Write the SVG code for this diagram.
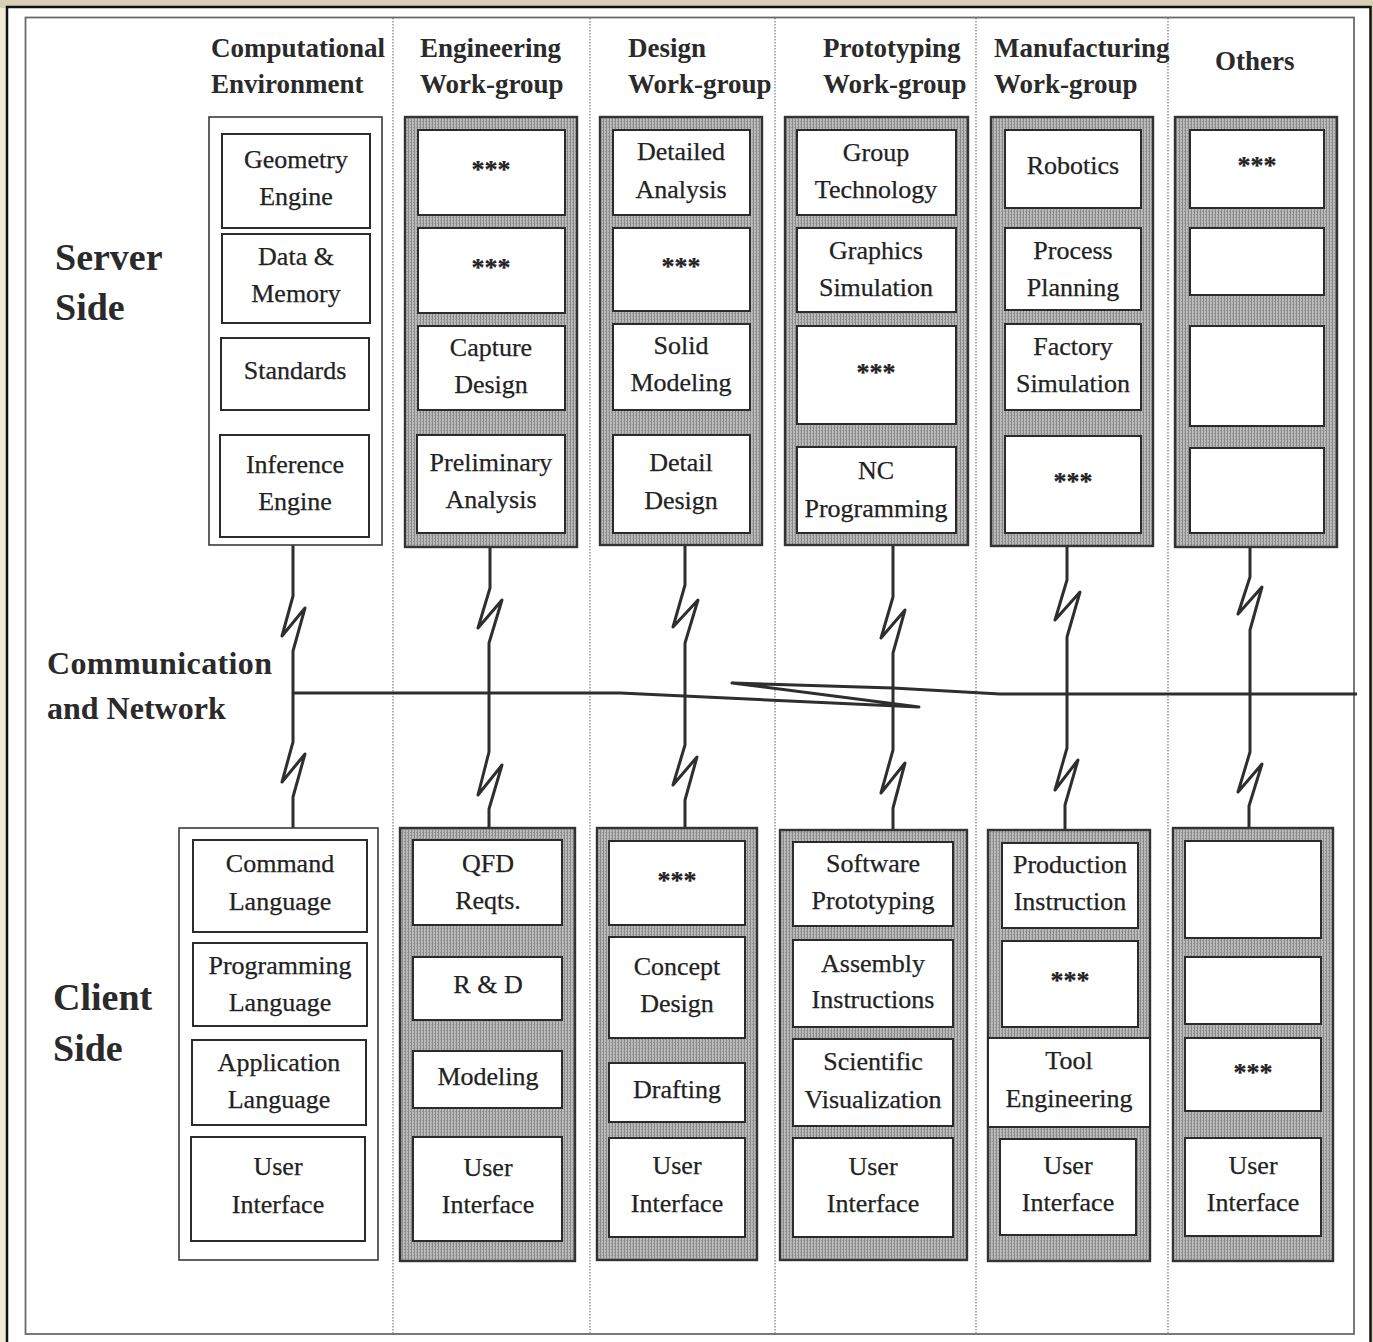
<svg xmlns="http://www.w3.org/2000/svg" width="1373" height="1342" viewBox="0 0 1373 1342">
  <defs>
    <!-- stippled grey used for the work-group panels -->
    <pattern id="stip" width="3" height="3" patternUnits="userSpaceOnUse">
      <rect width="3" height="3" fill="#bababa"/>
      <rect x="0" y="0" width="1" height="3" fill="#8a8a8a"/>
      <rect x="2" y="1" width="1" height="1" fill="#969696"/>
    </pattern>
    <style>
      .page{fill:#fff;stroke:#111;stroke-width:2.5}
      .border{fill:none;stroke:#6a6a6a;stroke-width:1.8}
      .div{stroke:#7a7a7a;stroke-width:1.2;stroke-dasharray:1.5 1.5}
      .plain{fill:#fff;stroke:#3a3a3a;stroke-width:1.6}
      .panel{fill:url(#stip);stroke:#333;stroke-width:2.4}
      .cell{fill:#fff;stroke:#2b2b2b;stroke-width:2}
      .t{font-family:"Liberation Serif","Times New Roman",serif;font-size:26px;fill:#222;stroke:#222;stroke-width:0.25;text-anchor:middle}
      .star{font-weight:bold}
      .h{font-family:"Liberation Serif","Times New Roman",serif;font-weight:bold;font-size:27px;fill:#2a2a2a}
      .big{font-size:38px}
      .net{font-size:32px}
      .wire{fill:none;stroke:#2e2e2e;stroke-width:3;stroke-linejoin:round}
    </style>
  </defs>

  <!-- page backdrop -->
  <rect x="0" y="0" width="1373" height="1342" fill="#d9ceb8"/>
  <rect x="0" y="8" width="7" height="1334" fill="#f2ecd6"/>
  <rect class="page" x="7" y="7" width="1363.5" height="1345"/>
  <rect class="border" x="25.5" y="17.5" width="1328.5" height="1316.5"/>

  <!-- column separators -->
  <g id="separators">
    <line class="div" x1="393" y1="18" x2="393" y2="1334"/>
    <line class="div" x1="590" y1="18" x2="590" y2="1334"/>
    <line class="div" x1="775" y1="18" x2="775" y2="1334"/>
    <line class="div" x1="976" y1="18" x2="976" y2="1334"/>
    <line class="div" x1="1168" y1="18" x2="1168" y2="1334"/>
  </g>

  <!-- row and column headings -->
  <g id="headings">
    <text class="h" x="211" y="57">Computational</text>
    <text class="h" x="211" y="93">Environment</text>
    <text class="h" x="420" y="57">Engineering</text>
    <text class="h" x="420" y="93">Work-group</text>
    <text class="h" x="628" y="57">Design</text>
    <text class="h" x="628" y="93">Work-group</text>
    <text class="h" x="823" y="57">Prototyping</text>
    <text class="h" x="823" y="93">Work-group</text>
    <text class="h" x="994" y="57">Manufacturing</text>
    <text class="h" x="994" y="93">Work-group</text>
    <text class="h" x="1215" y="70">Others</text>
    <text class="h big" x="55" y="270">Server</text>
    <text class="h big" x="55" y="320">Side</text>
    <text class="h net" x="47" y="674" textLength="225">Communication</text>
    <text class="h net" x="47" y="719">and Network</text>
    <text class="h big" x="53" y="1010">Client</text>
    <text class="h big" x="53" y="1061">Side</text>
  </g>

  <!-- network links: drops with lightning breaks and the shared bus -->
  <g id="connectors">
    <path class="wire" d="M293,537 V596 L282,636 L305,608 L293,651 V742 L282,782 L305,754 L293,797 V840"/>
    <path class="wire" d="M490,533 V588 L478,628 L502,600 L489,643 V752 L478,795 L502,765 L489,809 V840"/>
    <path class="wire" d="M685,533 V585 L673,627 L698,600 L685,643 V745 L673,785 L697,757 L685,800 V841"/>
    <path class="wire" d="M893,533 V597 L881,638 L905,610 L893,653 V750 L881,793 L905,763 L893,808 V842"/>
    <path class="wire" d="M1067,533 V580 L1055,620 L1080,592 L1067,637 V748 L1055,790 L1078,760 L1065,805 V843"/>
    <path class="wire" d="M1250,533 V577 L1238,614 L1262,587 L1250,630 V752 L1238,792 L1262,764 L1249,806 V841"/>
    <path class="wire" stroke-linejoin="miter" stroke-miterlimit="2" d="M293,693 L620,693 L919,707 L732,683 L893,688 L1000,694 L1357,694"/>
  </g>

  <!-- server side: computational environment -->
  <g id="server-computational">
    <rect class="plain" x="209" y="117" width="173" height="428"/>
    <g id="geometry-engine"><rect class="cell" x="222" y="134" width="148" height="94"/>
      <text class="t" x="296" y="168">Geometry</text><text class="t" x="296" y="205">Engine</text></g>
    <g id="data-memory"><rect class="cell" x="222" y="234" width="148" height="89"/>
      <text class="t" x="296" y="265">Data &amp;</text><text class="t" x="296" y="302">Memory</text></g>
    <g id="standards"><rect class="cell" x="221" y="338" width="148" height="72"/>
      <text class="t" x="295" y="379">Standards</text></g>
    <g id="inference-engine"><rect class="cell" x="220" y="435" width="149" height="102"/>
      <text class="t" x="295" y="473">Inference</text><text class="t" x="295" y="510">Engine</text></g>
  </g>

  <!-- server side: engineering work-group -->
  <g id="server-engineering">
    <rect class="panel" x="405" y="117" width="172" height="430"/>
    <g id="eng-s1"><rect class="cell" x="418" y="130" width="147" height="85"/>
      <text class="t star" x="491" y="178">***</text></g>
    <g id="eng-s2"><rect class="cell" x="418" y="228" width="147" height="85"/>
      <text class="t star" x="491" y="276">***</text></g>
    <g id="capture-design"><rect class="cell" x="418" y="326" width="147" height="84"/>
      <text class="t" x="491" y="356">Capture</text><text class="t" x="491" y="393">Design</text></g>
    <g id="preliminary-analysis"><rect class="cell" x="417" y="435" width="148" height="98"/>
      <text class="t" x="491" y="471">Preliminary</text><text class="t" x="491" y="508">Analysis</text></g>
  </g>

  <!-- server side: design work-group -->
  <g id="server-design">
    <rect class="panel" x="600" y="117" width="162" height="428"/>
    <g id="detailed-analysis"><rect class="cell" x="613" y="130" width="137" height="85"/>
      <text class="t" x="681" y="160">Detailed</text><text class="t" x="681" y="198">Analysis</text></g>
    <g id="des-s2"><rect class="cell" x="613" y="228" width="137" height="83"/>
      <text class="t star" x="681" y="275">***</text></g>
    <g id="solid-modeling"><rect class="cell" x="613" y="324" width="137" height="86"/>
      <text class="t" x="681" y="354">Solid</text><text class="t" x="681" y="391">Modeling</text></g>
    <g id="detail-design"><rect class="cell" x="613" y="435" width="137" height="98"/>
      <text class="t" x="681" y="471">Detail</text><text class="t" x="681" y="509">Design</text></g>
  </g>

  <!-- server side: prototyping work-group -->
  <g id="server-prototyping">
    <rect class="panel" x="785" y="117" width="183" height="428"/>
    <g id="group-technology"><rect class="cell" x="797" y="130" width="159" height="85"/>
      <text class="t" x="876" y="161">Group</text><text class="t" x="876" y="198">Technology</text></g>
    <g id="graphics-simulation"><rect class="cell" x="797" y="228" width="159" height="84"/>
      <text class="t" x="876" y="259">Graphics</text><text class="t" x="876" y="296">Simulation</text></g>
    <g id="pro-s3"><rect class="cell" x="797" y="326" width="159" height="98"/>
      <text class="t star" x="876" y="381">***</text></g>
    <g id="nc-programming"><rect class="cell" x="797" y="447" width="159" height="86"/>
      <text class="t" x="876" y="479">NC</text><text class="t" x="876" y="517">Programming</text></g>
  </g>

  <!-- server side: manufacturing work-group -->
  <g id="server-manufacturing">
    <rect class="panel" x="991" y="117" width="162" height="429"/>
    <g id="robotics"><rect class="cell" x="1005" y="130" width="136" height="78"/>
      <text class="t" x="1073" y="174">Robotics</text></g>
    <g id="process-planning"><rect class="cell" x="1005" y="228" width="136" height="82"/>
      <text class="t" x="1073" y="259">Process</text><text class="t" x="1073" y="296">Planning</text></g>
    <g id="factory-simulation"><rect class="cell" x="1005" y="324" width="136" height="86"/>
      <text class="t" x="1073" y="355">Factory</text><text class="t" x="1073" y="392">Simulation</text></g>
    <g id="man-s4"><rect class="cell" x="1005" y="436" width="136" height="97"/>
      <text class="t star" x="1073" y="490">***</text></g>
  </g>

  <!-- server side: others -->
  <g id="server-others">
    <rect class="panel" x="1175" y="117" width="162" height="430"/>
    <g id="oth-s1"><rect class="cell" x="1190" y="130" width="134" height="78"/>
      <text class="t star" x="1257" y="174">***</text></g>
    <g id="oth-s2"><rect class="cell" x="1190" y="228" width="134" height="67"/></g>
    <g id="oth-s3"><rect class="cell" x="1190" y="326" width="134" height="100"/></g>
    <g id="oth-s4"><rect class="cell" x="1190" y="448" width="134" height="85"/></g>
  </g>

  <!-- client side: computational environment -->
  <g id="client-computational">
    <rect class="plain" x="179" y="828" width="199" height="432"/>
    <g id="command-language"><rect class="cell" x="193" y="840" width="174" height="92"/>
      <text class="t" x="280" y="872">Command</text><text class="t" x="280" y="910">Language</text></g>
    <g id="programming-language"><rect class="cell" x="193" y="943" width="174" height="83"/>
      <text class="t" x="280" y="974">Programming</text><text class="t" x="280" y="1011">Language</text></g>
    <g id="application-language"><rect class="cell" x="192" y="1040" width="174" height="85"/>
      <text class="t" x="279" y="1071">Application</text><text class="t" x="279" y="1108">Language</text></g>
    <g id="ui-computational"><rect class="cell" x="191" y="1137" width="174" height="104"/>
      <text class="t" x="278" y="1175">User</text><text class="t" x="278" y="1213">Interface</text></g>
  </g>

  <!-- client side: engineering work-group -->
  <g id="client-engineering">
    <rect class="panel" x="400" y="828" width="175" height="433"/>
    <g id="qfd-reqts"><rect class="cell" x="413" y="840" width="149" height="85"/>
      <text class="t" x="488" y="872">QFD</text><text class="t" x="488" y="909">Reqts.</text></g>
    <g id="r-and-d"><rect class="cell" x="413" y="957" width="149" height="63"/>
      <text class="t" x="488" y="993">R &amp; D</text></g>
    <g id="modeling"><rect class="cell" x="413" y="1051" width="149" height="57"/>
      <text class="t" x="488" y="1085">Modeling</text></g>
    <g id="ui-engineering"><rect class="cell" x="413" y="1137" width="149" height="104"/>
      <text class="t" x="488" y="1176">User</text><text class="t" x="488" y="1213">Interface</text></g>
  </g>

  <!-- client side: design work-group -->
  <g id="client-design">
    <rect class="panel" x="597" y="828" width="160" height="432"/>
    <g id="des-c1"><rect class="cell" x="609" y="841" width="136" height="84"/>
      <text class="t star" x="677" y="889">***</text></g>
    <g id="concept-design"><rect class="cell" x="609" y="937" width="136" height="101"/>
      <text class="t" x="677" y="975">Concept</text><text class="t" x="677" y="1012">Design</text></g>
    <g id="drafting"><rect class="cell" x="609" y="1063" width="136" height="59"/>
      <text class="t" x="677" y="1098">Drafting</text></g>
    <g id="ui-design"><rect class="cell" x="609" y="1138" width="136" height="99"/>
      <text class="t" x="677" y="1174">User</text><text class="t" x="677" y="1212">Interface</text></g>
  </g>

  <!-- client side: prototyping work-group -->
  <g id="client-prototyping">
    <rect class="panel" x="780" y="830" width="187" height="430"/>
    <g id="software-prototyping"><rect class="cell" x="793" y="842" width="160" height="84"/>
      <text class="t" x="873" y="872">Software</text><text class="t" x="873" y="909">Prototyping</text></g>
    <g id="assembly-instructions"><rect class="cell" x="793" y="940" width="160" height="87"/>
      <text class="t" x="873" y="972">Assembly</text><text class="t" x="873" y="1008">Instructions</text></g>
    <g id="scientific-visualization"><rect class="cell" x="793" y="1039" width="160" height="87"/>
      <text class="t" x="873" y="1070">Scientific</text><text class="t" x="873" y="1108">Visualization</text></g>
    <g id="ui-prototyping"><rect class="cell" x="793" y="1138" width="160" height="99"/>
      <text class="t" x="873" y="1175">User</text><text class="t" x="873" y="1212">Interface</text></g>
  </g>

  <!-- client side: manufacturing work-group -->
  <g id="client-manufacturing">
    <rect class="panel" x="988" y="830" width="162" height="431"/>
    <g id="production-instruction"><rect class="cell" x="1002" y="843" width="136" height="85"/>
      <text class="t" x="1070" y="873">Production</text><text class="t" x="1070" y="910">Instruction</text></g>
    <g id="man-c2"><rect class="cell" x="1002" y="941" width="136" height="86"/>
      <text class="t star" x="1070" y="989">***</text></g>
    <g id="tool-engineering"><rect class="cell" x="988" y="1038" width="162" height="89"/>
      <text class="t" x="1069" y="1069">Tool</text><text class="t" x="1069" y="1107">Engineering</text></g>
    <g id="ui-manufacturing"><rect class="cell" x="1000" y="1139" width="136" height="96"/>
      <text class="t" x="1068" y="1174">User</text><text class="t" x="1068" y="1211">Interface</text></g>
  </g>

  <!-- client side: others -->
  <g id="client-others">
    <rect class="panel" x="1173" y="828" width="160" height="433"/>
    <g id="oth-c1"><rect class="cell" x="1185" y="841" width="136" height="97"/></g>
    <g id="oth-c2"><rect class="cell" x="1185" y="957" width="136" height="67"/></g>
    <g id="oth-c3"><rect class="cell" x="1185" y="1038" width="136" height="73"/>
      <text class="t star" x="1253" y="1081">***</text></g>
    <g id="ui-others"><rect class="cell" x="1185" y="1138" width="136" height="98"/>
      <text class="t" x="1253" y="1174">User</text><text class="t" x="1253" y="1211">Interface</text></g>
  </g>
</svg>
